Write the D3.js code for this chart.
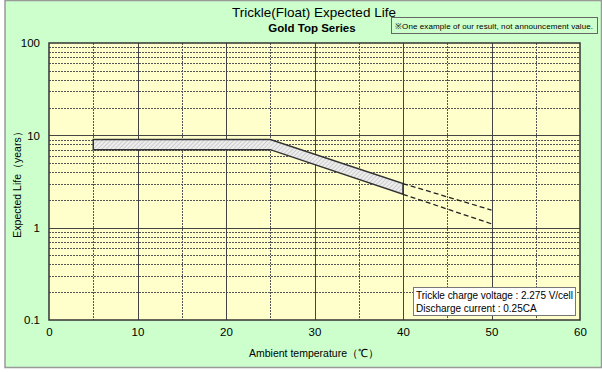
<!DOCTYPE html>
<html>
<head>
<meta charset="utf-8">
<script src="https://cdn.jsdelivr.net/npm/d3@7"></script>
<style>
  body { margin: 0; background: #fff; }
  svg { display: block; font-family: "Liberation Sans", Arial, sans-serif; }
</style>
</head>
<body>
<svg width="602" height="372"></svg>
<script>
var width  = 602;
var height = 372;
var plotLeft = 49, plotRight = 580, plotTop = 43, plotBottom = 320;

// band: flat to 25 degC, then falling to 40 degC
var bandTemps = [5, 25, 40];
var bandUpper = [9, 9, 3.0];
var bandLower = [7, 7, 2.3];

// dashed extrapolation 40 -> 50 degC
var extTemps = [40, 50];
var extUpper = [3.0, 1.55];
var extLower = [2.3, 1.1];

var xTicks = [0, 10, 20, 30, 40, 50, 60];
var yTicks = [0.1, 1, 10, 100];
var yTickLabels = ['0.1', '1', '10', '100'];

var svg = d3.select('svg');

var xScale = d3.scaleLinear().domain([0, 60]).range([plotLeft, plotRight]);
var yScale = d3.scaleLog().domain([0.1, 100]).range([plotBottom, plotTop]);

// frame
svg.append('rect')
    .attr('x', 5).attr('y', 0.5)
    .attr('width', width - 5.5).attr('height', height - 5)
    .attr('fill', '#ccffcc')
    .attr('stroke', '#999').attr('stroke-width', 1.5);

svg.append('rect')
    .attr('x', plotLeft).attr('y', plotTop)
    .attr('width', plotRight - plotLeft).attr('height', plotBottom - plotTop)
    .attr('fill', '#ffffcc');

var defs = svg.append('defs');
var pat = defs.append('pattern')
    .attr('id', 'hatch')
    .attr('patternUnits', 'userSpaceOnUse')
    .attr('width', 3).attr('height', 3)
    .attr('patternTransform', 'rotate(45)');
pat.append('rect').attr('width', 3).attr('height', 3).attr('fill', '#eeeeee');
pat.append('line')
    .attr('x1', 0).attr('y1', 0).attr('x2', 0).attr('y2', 3)
    .attr('stroke', '#aaa').attr('stroke-width', 1);

// grid
var grid = svg.append('g');
var minorY = [];
[0.1, 1, 10].forEach(function(d) {
    for (var k = 2; k <= 9; k++) minorY.push(d * k);
});
grid.selectAll('.ym').data(minorY).enter().append('line')
    .attr('x1', plotLeft).attr('x2', plotRight)
    .attr('y1', d => Math.round(yScale(d)) + 0.5)
    .attr('y2', d => Math.round(yScale(d)) + 0.5)
    .attr('stroke', '#555').attr('stroke-width', 1)
    .attr('stroke-dasharray', '2,1');
grid.selectAll('.yM').data([1, 10]).enter().append('line')
    .attr('x1', plotLeft).attr('x2', plotRight)
    .attr('y1', d => Math.round(yScale(d)) + 0.5)
    .attr('y2', d => Math.round(yScale(d)) + 0.5)
    .attr('stroke', '#444').attr('stroke-width', 1);
grid.selectAll('.xm').data([5, 15, 25, 35, 45, 55]).enter().append('line')
    .attr('y1', plotTop).attr('y2', plotBottom)
    .attr('x1', d => Math.round(xScale(d)) + 0.5)
    .attr('x2', d => Math.round(xScale(d)) + 0.5)
    .attr('stroke', '#555').attr('stroke-width', 1)
    .attr('stroke-dasharray', '2,1');
grid.selectAll('.xM').data([10, 20, 30, 40, 50]).enter().append('line')
    .attr('y1', plotTop).attr('y2', plotBottom)
    .attr('x1', d => Math.round(xScale(d)) + 0.5)
    .attr('x2', d => Math.round(xScale(d)) + 0.5)
    .attr('stroke', '#444').attr('stroke-width', 1);

// band
var bandPts = bandTemps.map((t, i) => [xScale(t), yScale(bandUpper[i])])
    .concat(bandTemps.map((t, i) => [xScale(t), yScale(bandLower[i])]).reverse());
svg.append('path')
    .attr('d', d3.line()(bandPts) + 'Z')
    .attr('fill', 'url(#hatch)')
    .attr('stroke', '#333').attr('stroke-width', 1.5);

// dashed extensions
var dashLine = d3.line().x((d, i) => xScale(extTemps[i])).y(d => yScale(d));
[extUpper, extLower].forEach(function(s) {
    svg.append('path')
        .attr('d', dashLine(s))
        .attr('fill', 'none')
        .attr('stroke', '#222').attr('stroke-width', 1.3)
        .attr('stroke-dasharray', '5,3');
});

// plot border
svg.append('rect')
    .attr('x', plotLeft).attr('y', plotTop)
    .attr('width', plotRight - plotLeft).attr('height', plotBottom - plotTop)
    .attr('fill', 'none')
    .attr('stroke', '#333').attr('stroke-width', 1.5);

// axes
var xAxis = d3.axisBottom(xScale).tickValues(xTicks).tickSize(0).tickPadding(8);
svg.append('g')
    .attr('transform', 'translate(0,' + plotBottom + ')')
    .call(xAxis)
    .call(g => g.select('.domain').remove())
    .selectAll('text').attr('font-size', 11.5).attr('fill', '#000')
    .attr('font-family', '"Liberation Sans", Arial, sans-serif');

var yAxis = d3.axisLeft(yScale).tickValues(yTicks)
    .tickFormat((d, i) => yTickLabels[i]).tickSize(0).tickPadding(9);
svg.append('g')
    .attr('transform', 'translate(' + plotLeft + ',0)')
    .call(yAxis)
    .call(g => g.select('.domain').remove())
    .selectAll('text').attr('font-size', 11.5).attr('fill', '#000')
    .attr('font-family', '"Liberation Sans", Arial, sans-serif');

// titles
svg.append('text')
    .attr('x', 314).attr('y', 17)
    .attr('text-anchor', 'middle')
    .attr('font-size', 13.5)
    .text('Trickle(Float)  Expected Life');

svg.append('text')
    .attr('x', 312).attr('y', 32)
    .attr('text-anchor', 'middle')
    .attr('font-size', 11.5)
    .attr('font-weight', 'bold')
    .text('Gold Top Series');

svg.append('rect')
    .attr('x', 391.5).attr('y', 17.5)
    .attr('width', 206).attr('height', 16)
    .attr('fill', '#ccffcc')
    .attr('stroke', '#666').attr('stroke-width', 1);
svg.append('text')
    .attr('x', 395).attr('y', 28.5)
    .attr('font-size', 8)
    .attr('textLength', 198)
    .text('※One example of our result, not announcement  value.');

svg.append('text')
    .attr('x', 314).attr('y', 357)
    .attr('text-anchor', 'middle')
    .attr('font-size', 10.5)
    .text('Ambient temperature（℃）');

svg.append('text')
    .attr('transform', 'rotate(-90)')
    .attr('x', -182).attr('y', 21)
    .attr('text-anchor', 'middle')
    .attr('font-size', 10.5)
    .text('Expected Life（years）');

// condition box
svg.append('rect')
    .attr('x', 413.5).attr('y', 287.5)
    .attr('width', 162).attr('height', 28)
    .attr('fill', '#fff')
    .attr('stroke', '#777').attr('stroke-width', 1);
svg.append('text')
    .attr('x', 416).attr('y', 298.5)
    .attr('font-size', 10)
    .attr('textLength', 157)
    .text('Trickle charge voltage : 2.275 V/cell');
svg.append('text')
    .attr('x', 416).attr('y', 312)
    .attr('font-size', 10)
    .text('Discharge current : 0.25CA');
</script>
</body>
</html>
